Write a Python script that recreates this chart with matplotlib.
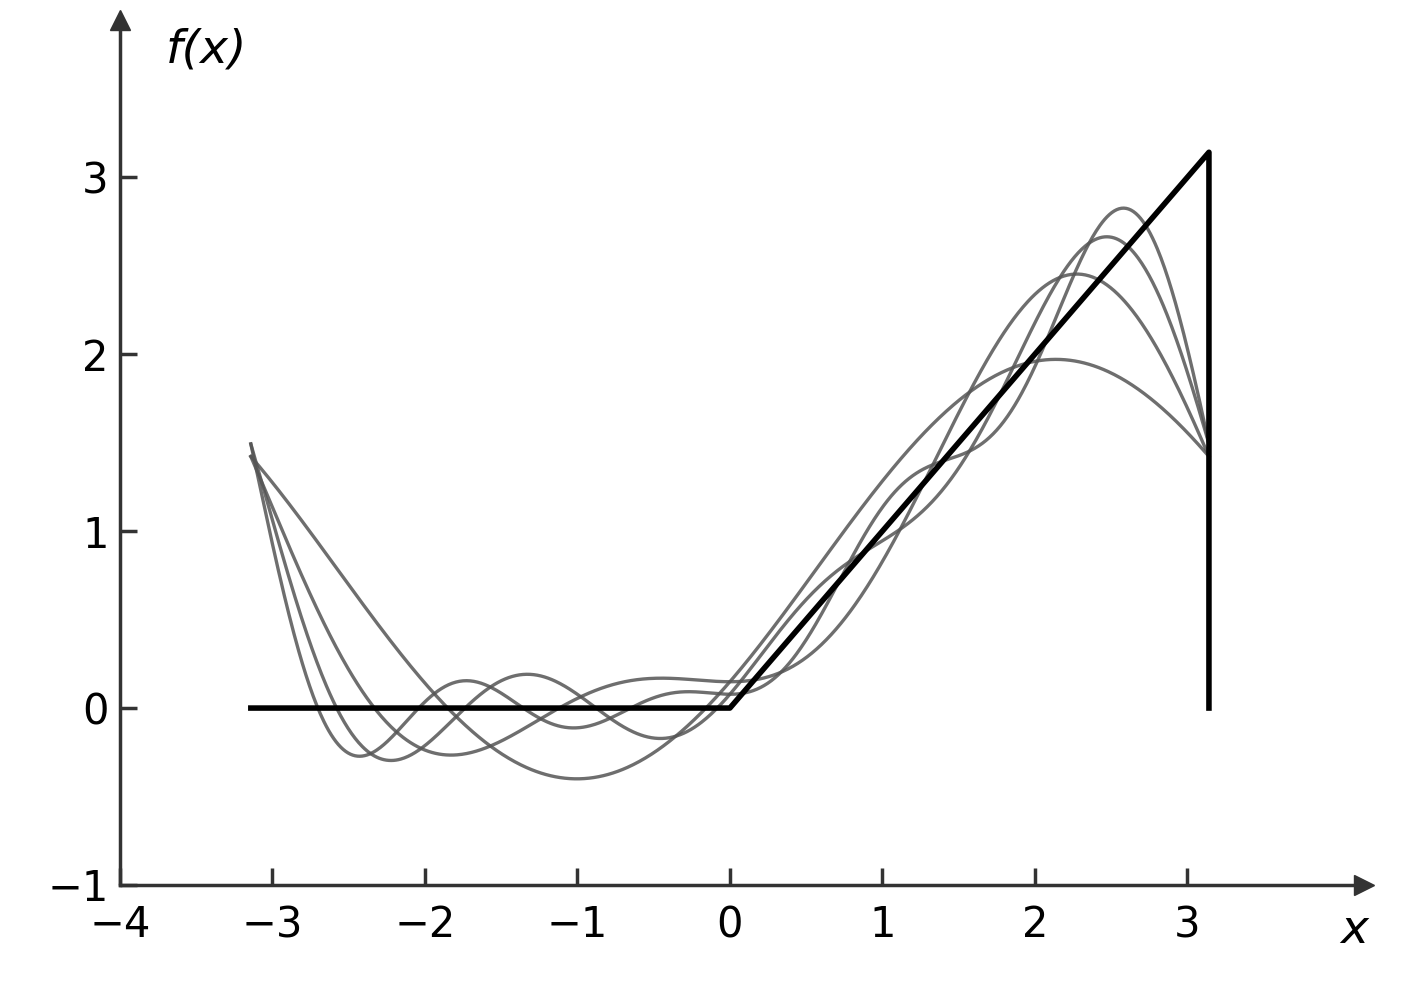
import numpy as np
import matplotlib
matplotlib.use('Agg')
import matplotlib.pyplot as plt

# partial sums of the Fourier series of f(x) = 0 (x<0), x (x>=0) on [-pi, pi]
ORDERS = [1, 2, 3, 4]
A0_HALF = np.pi / 4
A_COEF = [-2 / np.pi, 0.0, -2 / (9 * np.pi), 0.0]
B_COEF = [1.0, -1 / 2, 1 / 3, -1 / 4]

TARGET_X = [-np.pi, 0.0, np.pi, np.pi]
TARGET_Y = [0.0, 0.0, np.pi, 0.0]

X_TICKS = [-4, -3, -2, -1, 0, 1, 2, 3]
Y_TICKS = [-1, 0, 1, 2, 3]


def partial_sum(x, order):
    s = np.full_like(x, A0_HALF)
    for n in range(1, order + 1):
        s += A_COEF[n - 1] * np.cos(n * x) + B_COEF[n - 1] * np.sin(n * x)
    return s


def main():
    fig = plt.figure(figsize=(14.06, 9.82), dpi=100)
    ax = fig.add_axes([0.0853, 0.0988, 0.885, 0.881])
    ax.set_xlim(-4, 4.16)
    ax.set_ylim(-1, 3.89)

    x = np.linspace(-np.pi, np.pi, 800)
    for order in ORDERS:
        ax.plot(x, partial_sum(x, order), color='#555555', lw=2.4, alpha=0.85)
    ax.plot(TARGET_X, TARGET_Y, color='black', lw=4)

    for side in ['top', 'right']:
        ax.spines[side].set_visible(False)
    for side in ['left', 'bottom']:
        ax.spines[side].set_linewidth(2.5)
        ax.spines[side].set_color('#333333')
    ax.plot(1, 0, '>', color='#333333', ms=14, transform=ax.transAxes, clip_on=False)
    ax.plot(0, 1, '^', color='#333333', ms=14, transform=ax.transAxes, clip_on=False)

    ax.set_xticks(X_TICKS)
    ax.set_yticks(Y_TICKS)
    ax.set_xticklabels(['−4', '−3', '−2', '−1', '0', '1', '2', '3'])
    ax.set_yticklabels(['−1', '0', '1', '2', '3'])
    ax.tick_params(direction='in', length=12, width=2.5, color='#333333',
                   labelsize=30)
    ax.tick_params(axis='x', pad=14)
    ax.tick_params(axis='y', pad=8)

    ax.text(-3.7, 3.65, 'f(x)', fontsize=34, style='italic')
    ax.text(4.0, -1.13, 'x', fontsize=34, style='italic', va='top')

    fig.savefig('out.png', dpi=100)


if __name__ == '__main__':
    main()
